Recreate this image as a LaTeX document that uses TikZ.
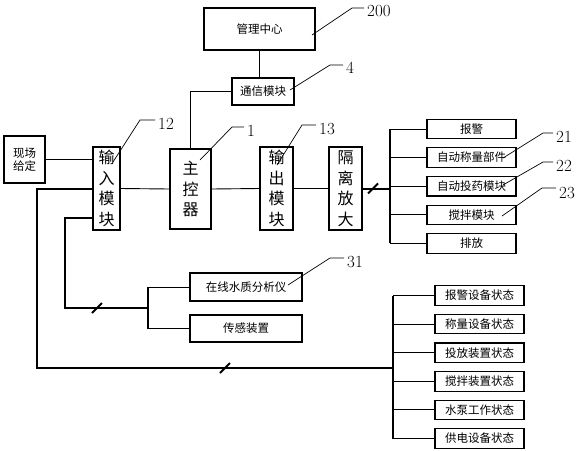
\documentclass[tikz,border=0pt]{standalone}
\usepackage{fontspec}
\newfontfamily\cjk{Noto Sans CJK SC}
\usepackage{tikz}
\usetikzlibrary{positioning,calc}
\newcommand\tick[1]{\draw[bus] ($(#1)+(-5,5)$) -- ($(#1)+(5,-5)$);}
\begin{document}
\begin{tikzpicture}[x=1pt,y=-1pt,
	box/.style={draw,line width=1.1pt,inner sep=0pt,font=\cjk\fontsize{11.5}{13.5}\selectfont},
	tall/.style={box,align=center,font=\cjk\fontsize{16}{20.5}\selectfont},
	item/.style={box,minimum width=89pt,minimum height=19.5pt},
	bus/.style={line width=2pt},
	wire/.style={line width=0.9pt},
	lead/.style={line width=0.7pt},
	num/.style={inner sep=0pt,anchor=west,font=\fontsize{17}{19}\selectfont}]
\useasboundingbox (0,0) rectangle (583,450);
%top
\node[box,minimum width=111pt,minimum height=42pt] (mgmt) at (259.5,29) {管理中心};
\node[box,minimum width=62pt,minimum height=27pt] (comm) at (263,91.5) {通信模块};
%middle row
\node[box,align=center,minimum width=41pt,minimum height=47pt] (site) at (24.5,159.5) {现场\\给定};
\node[tall,minimum width=27pt,minimum height=83pt] (inmod) at (106.5,188.5) {输\\入\\模\\块};
\node[tall,minimum width=41pt,minimum height=80pt] (ctrl) at (190.5,189) {主\\控\\器};
\node[tall,minimum width=33pt,minimum height=83pt] (outmod) at (276.5,188.5) {输\\出\\模\\块};
\node[tall,minimum width=33pt,minimum height=83pt] (iso) at (345.5,188.5) {隔\\离\\放\\大};
%actuators
\node[item] (alarm) at (471.5,129) {报警};
\node[item,below=8pt of alarm] (weigh) {自动称量部件};
\node[item,below=8pt of weigh] (dose) {自动投药模块};
\node[item,below=8pt of dose] (stir) {搅拌模块};
\node[item,below=8pt of stir] (drain) {排放};
%sensors
\node[box,minimum width=112pt,minimum height=28pt] (analyzer) at (246,287) {在线水质分析仪};
\node[box,minimum width=112pt,minimum height=27pt] (sensor) at (246,328.5) {传感装置};
%states
\node[item] (st1) at (479.5,295.5) {报警设备状态};
\node[item,below=8pt of st1] (st2) {称量设备状态};
\node[item,below=8pt of st2] (st3) {投放装置状态};
\node[item,below=8pt of st3] (st4) {搅拌装置状态};
\node[item,below=8pt of st4] (st5) {水泵工作状态};
\node[item,below=8pt of st5] (st6) {供电设备状态};
%links
\draw[wire] (mgmt.south) -- (mgmt.south |- comm.north)
	(ctrl.north) |- (comm.west)
	(site.east) -- (site.east -| inmod.west)
	(inmod.east) -- (ctrl.west)
	(ctrl.east) -- (outmod.west)
	(outmod.east) -- (iso.west);
%actuator bus
\coordinate (rbus) at (390,0);
\draw[bus] (iso.east) -- (rbus |- iso.east)
	(rbus |- alarm.west) -- (rbus |- drain.west);
\draw[wire] (rbus |- alarm.west) -- (alarm.west)
	(rbus |- weigh.west) -- (weigh.west)
	(rbus |- dose.west) -- (dose.west)
	(rbus |- stir.west) -- (stir.west)
	(rbus |- drain.west) -- (drain.west);
\tick{373,188.5}
%sensor bus
\coordinate (c2) at (65,308);
\coordinate (mbus) at (148,0);
\draw[bus] ([yshift=13pt]inmod.south west) -| (c2) -- (c2 -| mbus)
	(mbus |- analyzer.west) -- (mbus |- sensor.west);
\draw[wire] (mbus |- analyzer.west) -- (analyzer.west)
	(mbus |- sensor.west) -- (sensor.west);
\tick{97,308}
%state bus
\coordinate (c1) at (37,368);
\coordinate (lbus) at (393,0);
\draw[bus] (inmod.west) -| (c1) -- (c1 -| lbus)
	(lbus |- st1.west) -- (lbus |- st6.west);
\draw[wire] (lbus |- st1.west) -- (st1.west)
	(lbus |- st2.west) -- (st2.west)
	(lbus |- st3.west) -- (st3.west)
	(lbus |- st4.west) -- (st4.west)
	(lbus |- st5.west) -- (st5.west)
	(lbus |- st6.west) -- (st6.west);
\tick{225,368}
%reference numbers
\node[num] (n200) at (367,11) {200};
\node[num] (n4) at (346,68) {4};
\node[num] (n12) at (158,124) {12};
\node[num] (n1) at (247,131) {1};
\node[num] (n13) at (319,129) {13};
\node[num] (n21) at (556,137) {21};
\node[num] (n22) at (556,166) {22};
\node[num] (n23) at (559,193) {23};
\node[num] (n31) at (347,262) {31};
\draw[lead] (312,35) -- (352,8) -- ([xshift=-3pt,yshift=3pt]n200.west);
\draw[lead] (290,90) -- (330,65) -- ([xshift=-3pt,yshift=3pt]n4.west);
\draw[lead] (113,162) -- (140,120) -- ([xshift=-3pt,yshift=4pt]n12.west);
\draw[lead] (200,160) -- (232,127) -- ([xshift=-3pt,yshift=4pt]n1.west);
\draw[lead] (277,165) -- (302,125) -- ([xshift=-3pt,yshift=4pt]n13.west);
\draw[lead] (503,158) -- (543,133) -- ([xshift=-3pt,yshift=4pt]n21.west);
\draw[lead] (503,185) -- (543,162) -- ([xshift=-3pt,yshift=4pt]n22.west);
\draw[lead] (502,216) -- (542,188) -- ([xshift=-3pt,yshift=5pt]n23.west);
\draw[lead] (288,285) -- (330,258) -- ([xshift=-3pt,yshift=4pt]n31.west);
\end{tikzpicture}
\end{document}
